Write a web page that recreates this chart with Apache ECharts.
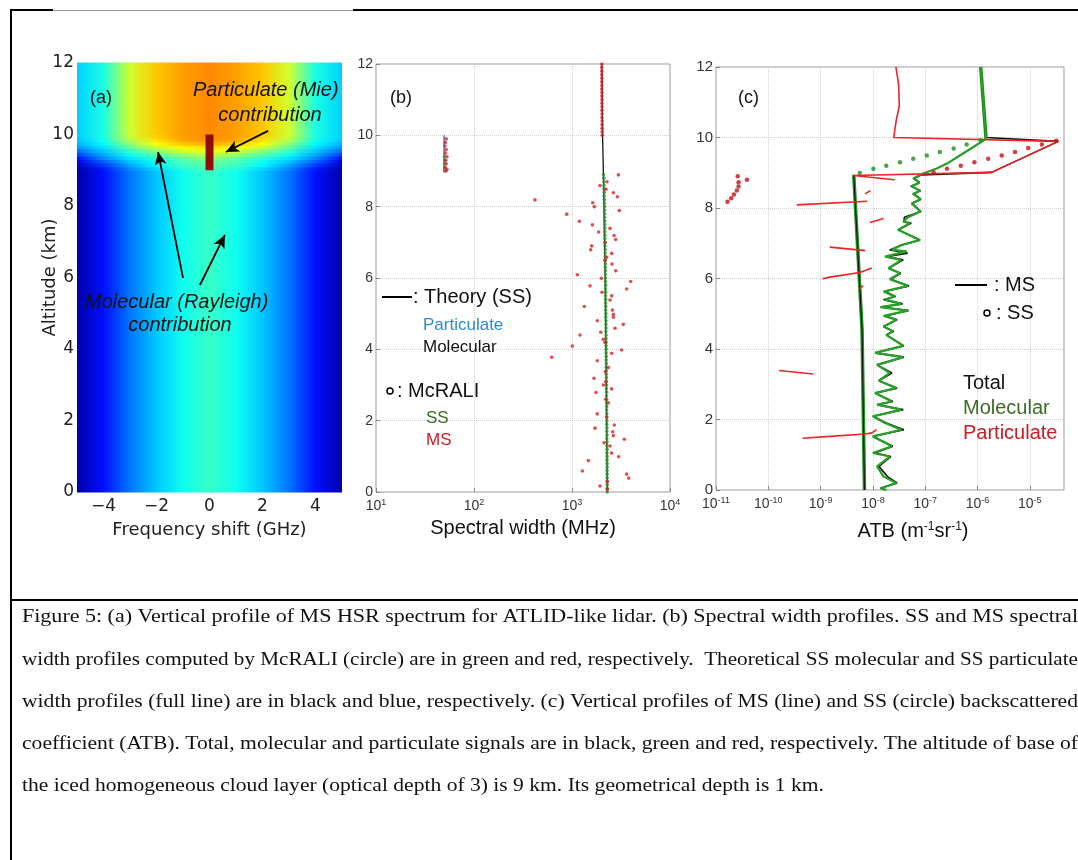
<!DOCTYPE html>
<html><head><meta charset="utf-8">
<script src="https://cdn.jsdelivr.net/npm/echarts@6/dist/echarts.min.js"></script>
<style>html,body{margin:0;padding:0;background:#fff}#c{width:1078px;height:860px}</style>
</head><body><div id="c"></div><script>
// ---------------- DATA ----------------
// (a) spectrum colour levels (jet scale 0..1) read at these frequency shifts (GHz)
const specFreqs = [-5,-4,-3,-2,-1,0,1,2,3,4,5];
// [altitude bottom, altitude top, levels at specFreqs...]
const spectrumBands = [
  [0.0, 9.0, 0.04,0.14,0.24,0.32,0.39,0.43,0.39,0.32,0.24,0.14,0.04],
  [9.0, 9.1, 0.05,0.15,0.26,0.34,0.41,0.45,0.41,0.34,0.26,0.15,0.05],
  [9.1, 9.2, 0.07,0.18,0.29,0.37,0.43,0.47,0.43,0.37,0.29,0.18,0.07],
  [9.2, 9.3, 0.10,0.22,0.32,0.39,0.45,0.49,0.45,0.39,0.32,0.22,0.10],
  [9.3, 9.4, 0.14,0.26,0.35,0.42,0.48,0.52,0.48,0.42,0.35,0.26,0.14],
  [9.4, 9.5, 0.19,0.29,0.39,0.46,0.52,0.56,0.52,0.46,0.39,0.29,0.19],
  [9.5, 9.6, 0.23,0.32,0.43,0.51,0.58,0.61,0.58,0.51,0.43,0.32,0.23],
  [9.6, 9.7, 0.27,0.35,0.47,0.57,0.63,0.66,0.63,0.57,0.47,0.35,0.27],
  [9.7, 9.8, 0.30,0.37,0.51,0.62,0.68,0.70,0.68,0.62,0.51,0.37,0.30],
  [9.8, 9.9, 0.32,0.39,0.55,0.65,0.71,0.73,0.71,0.65,0.55,0.39,0.32],
  [9.9,10.0, 0.33,0.40,0.57,0.67,0.72,0.74,0.72,0.67,0.57,0.40,0.33],
  [10.0,12.0,0.33,0.40,0.58,0.68,0.72,0.74,0.72,0.68,0.58,0.40,0.33]
];
// Mie peak: [f0, f1, z0, z1, level]
const mieCore = [[-0.15, 0.15, 9.0, 10.0, 0.95]];
// annotation arrows [[tail f, tail z],[head f, head z]]
const annotArrows = [
  [[2.21,10.10],[0.62,9.51]],
  [[-1.00,5.99],[-1.94,9.51]],
  [[-0.36,5.79],[0.58,7.19]]
];

// (b) spectral width (MHz) vs altitude (km) : [width, altitude]
const theoryMolecular = [[2290,0],[2240,3],[2180,6],[2090,9],[2050,10],[2020,12]];
const theoryParticulate = [[49.5,9.0],[49.5,10.0]];
const mcSSDots = [
  [2290,0.0],[2285,0.1],[2292,0.2],[2280,0.3],[2288,0.4],[2283,0.5],[2279,0.6],[2286,0.7],[2281,0.8],[2275,0.9],
  [2278,1.0],[2272,1.1],[2280,1.2],[2270,1.3],[2276,1.4],[2268,1.5],[2273,1.6],[2265,1.7],[2270,1.8],[2262,1.9],
  [2266,2.0],[2259,2.1],[2263,2.2],[2255,2.3],[2261,2.4],[2252,2.5],[2258,2.6],[2249,2.7],[2254,2.8],[2246,2.9],
  [2250,3.0],[2243,3.1],[2247,3.2],[2239,3.3],[2244,3.4],[2236,3.5],[2241,3.6],[2233,3.7],[2238,3.8],[2229,3.9],
  [2234,4.0],[2226,4.1],[2231,4.2],[2222,4.3],[2227,4.4],[2218,4.5],[2224,4.6],[2215,4.7],[2220,4.8],[2211,4.9],
  [2216,5.0],[2208,5.1],[2213,5.2],[2204,5.3],[2209,5.4],[2200,5.5],[2206,5.6],[2197,5.7],[2202,5.8],[2193,5.9],
  [2198,6.0],[2189,6.1],[2194,6.2],[2185,6.3],[2190,6.4],[2181,6.5],[2186,6.6],[2177,6.7],[2182,6.8],[2172,6.9],
  [2178,7.0],[2168,7.1],[2173,7.2],[2163,7.3],[2168,7.4],[2158,7.5],[2163,7.6],[2152,7.7],[2157,7.8],[2146,7.9],
  [2150,8.0],[2139,8.1],[2143,8.2],[2131,8.3],[2135,8.4],[2122,8.5],[2125,8.6],[2112,8.7],[2110,8.8],[2095,8.9],
  [50.0,9.0],[50.5,9.1],[50.0,9.2],[50.5,9.3],[50.0,9.4]
];
const mcMSDots = [
  [2035,10.0],[2030,10.1],[2028,10.2],[2025,10.3],[2030,10.4],[2022,10.5],[2026,10.6],[2020,10.7],[2024,10.8],[2018,10.9],
  [2022,11.0],[2016,11.1],[2020,11.2],[2014,11.3],[2018,11.4],[2012,11.5],[2016,11.6],[2010,11.7],[2014,11.8],[2008,11.9],[2012,12.0],
  [52,9.9],[51,9.8],[50.5,9.7],[52,9.6],[51,9.5],[53,9.4],[51.5,9.3],[52,9.2],[50.5,9.1],[53,9.05],[52,9.0],
  [2972,8.89],[2275,8.70],[1932,8.59],[2223,8.49],[2640,8.39],[2904,8.28],[419,8.19],[1625,8.11],[1690,8.00],[3040,7.89],
  [883,7.79],[1190,7.59],[1615,7.49],[2443,7.39],[1870,7.29],[2686,7.19],[2793,7.08],[2172,6.99],[1589,6.90],[1552,6.79],
  [2541,6.69],[2261,6.58],[2172,6.49],[2560,6.39],[2793,6.20],[1133,6.09],[1996,5.99],[3970,5.90],[1527,5.78],[3613,5.69],
  [2023,5.60],[2541,5.50],[2443,5.38],[1337,5.20],[2582,5.10],[2642,4.98],[2642,4.90],[1811,4.80],[3337,4.70],[2747,4.59],
  [1965,4.48],[1208,4.40],[2089,4.28],[2172,4.19],[1006,4.09],[3212,3.98],[2541,3.89],[621,3.78],[1811,3.68],[2349,3.49],
  [2188,3.37],[1675,3.19],[2204,3.09],[2089,3.00],[2541,2.89],[1757,2.79],[2204,2.60],[2349,2.50],[1811,2.19],[2261,2.10],
  [2705,1.88],[1717,1.79],[2603,1.69],[2642,1.58],[3417,1.48],[2124,1.38],[2443,1.29],[2541,1.09],[2993,0.99],[1468,0.88],
  [1275,0.59],[3613,0.50],[3788,0.39],[2296,0.29],[1932,0.17],[2300,0.08]
];

// (c) ATB (m-1 sr-1) vs altitude (km) : [ATB, altitude]
const molSSAbove = [[1.15e-6,12],[1.45e-6,10]];
const molSSBelow = [[4.3e-9,8.94],[6.2e-9,4.55],[6.9e-9,0]];
const molSSDots = [[5.6e-9,8.99],[1.02e-8,9.11],[1.8e-8,9.20],[3.3e-8,9.30],[5.9e-8,9.40],[1.07e-7,9.49],[1.9e-7,9.59],[3.5e-7,9.69],[6.2e-7,9.80],[1.15e-6,9.92]];
const ptcSSDots = [[3.2e-5,9.91],[1.7e-5,9.80],[9.3e-6,9.70],[5.2e-6,9.59],[2.9e-6,9.49],[1.6e-6,9.40],[8.7e-7,9.30],[4.8e-7,9.20],[2.6e-7,9.11],[1.45e-7,9.01],
  [1.66e-11,8.18],[1.95e-11,8.28],[2.2e-11,8.38],[2.5e-11,8.50],[2.7e-11,8.61],[2.7e-11,8.73],[2.6e-11,8.90],[3.9e-11,8.80]];
const molMS = [[1.15e-6,12],[1.45e-6,9.99],[1.29e-6,9.91],[8.3e-7,9.73],[4.6e-7,9.49],[2.6e-7,9.26],[1.66e-7,9.12],[9.1e-8,8.98],
  [8.5e-8,8.94],[5.9e-8,8.84],[7.8e-8,8.72],[5.5e-8,8.62],[7.9e-8,8.49],[5.8e-8,8.40],[8.1e-8,8.25],[5.5e-8,8.13],[8.1e-8,7.90],
  [4.7e-8,7.74],[3.8e-8,7.61],[5.1e-8,7.57],[3.0e-8,7.38],[7.8e-8,7.09],[3.5e-8,6.95],[2.3e-8,6.81],[4.4e-8,6.77],[1.7e-8,6.62],
  [3.5e-8,6.53],[2.0e-8,6.29],[3.3e-8,6.15],[2.1e-8,5.98],[4.7e-8,5.79],[1.6e-8,5.63],[2.6e-8,5.49],[1.7e-8,5.40],[3.5e-8,5.28],
  [1.4e-8,5.19],[4.7e-8,5.09],[1.6e-8,4.94],[2.8e-8,4.83],[1.6e-8,4.64],[2.4e-8,4.50],[1.8e-8,4.40],[3.8e-8,4.09],[1.1e-8,3.89],
  [3.8e-8,3.77],[1.2e-8,3.55],[2.1e-8,3.32],[1.3e-8,3.10],[2.8e-8,2.89],[1.1e-8,2.75],[2.3e-8,2.51],[1.2e-8,2.42],[3.5e-8,2.28],
  [1.0e-8,2.09],[1.7e-8,1.90],[3.5e-8,1.71],[1.0e-8,1.52],[2.3e-8,1.24],[1.0e-8,1.05],[2.1e-8,0.95],[1.2e-8,0.67],[1.6e-8,0.38],
  [2.8e-8,0.20],[1.4e-8,0.05],[1.8e-8,0.0]];
const totMS = [[1.15e-6,12],[1.45e-6,10.0],[3.5e-5,9.89],[1.86e-6,9.01],[8.5e-8,8.94],[6.2e-8,8.84],[7.8e-8,8.72],[5.3e-8,8.62],
  [8.1e-8,8.49],[6.0e-8,8.40],[8.3e-8,8.25],[5.6e-8,8.13],[8.3e-8,7.90],[4.0e-8,7.74],[3.9e-8,7.61],[5.4e-8,7.57],[3.1e-8,7.38],
  [8.0e-8,7.09],[3.6e-8,6.95],[2.1e-8,6.81],[4.6e-8,6.72],[1.8e-8,6.62],[3.8e-8,6.53],[2.0e-8,6.29],[3.4e-8,6.15],[2.2e-8,5.98],
  [4.9e-8,5.79],[1.7e-8,5.63],[2.7e-8,5.49],[1.6e-8,5.40],[3.7e-8,5.28],[1.4e-8,5.19],[4.8e-8,5.09],[1.7e-8,4.94],[2.9e-8,4.83],
  [1.6e-8,4.64],[2.5e-8,4.50],[1.8e-8,4.40],[3.9e-8,4.09],[1.1e-8,3.89],[3.9e-8,3.77],[1.2e-8,3.55],[2.3e-8,3.32],[1.3e-8,3.10],
  [2.9e-8,2.89],[1.1e-8,2.75],[2.4e-8,2.51],[1.2e-8,2.42],[3.8e-8,2.28],[1.0e-8,2.09],[1.8e-8,1.90],[3.9e-8,1.71],[1.0e-8,1.52],
  [2.4e-8,1.24],[1.1e-8,1.05],[2.2e-8,0.95],[1.3e-8,0.67],[1.9e-8,0.38],[2.9e-8,0.20],[1.4e-8,0.05],[1.8e-8,0.0]];
const ptcMSSegments = [
  [[2.75e-8,12],[3.1e-8,11.5],[3.2e-8,10.9],[2.8e-8,10.5],[2.5e-8,10.0],[3.5e-5,9.89],[1.86e-6,9.01],[4.2e-9,8.92],[2.6e-8,8.80]],
  [[7.1e-9,8.40],[8.9e-9,8.49]],
  [[3.5e-10,8.09],[7.8e-9,8.19]],
  [[8.7e-9,7.59],[1.6e-8,7.70]],
  [[1.5e-9,6.89],[7.1e-9,6.79]],
  [[1.1e-9,5.99],[1.5e-9,6.04],[5.6e-9,6.17],[9.5e-9,6.30]],
  [[5.5e-9,5.70],[6.5e-9,5.80]],
  [[1.6e-10,3.39],[7.2e-10,3.29]],
  [[4.5e-10,1.47],[1.5e-9,1.52],[7.1e-9,1.59],[9.5e-9,1.62],[1.17e-8,1.71]]
];

const captionLines = [
  'Figure 5: (a) Vertical profile of MS HSR spectrum for ATLID-like lidar. (b) Spectral width profiles. SS and MS spectral',
  'width profiles computed by McRALI (circle) are in green and red, respectively.  Theoretical SS molecular and SS particulate',
  'width profiles (full line) are in black and blue, respectively. (c) Vertical profiles of MS (line) and SS (circle) backscattered',
  'coefficient (ATB). Total, molecular and particulate signals are in black, green and red, respectively. The altitude of base of',
  'the iced homogeneous cloud layer (optical depth of 3) is 9 km. Its geometrical depth is 1 km.'
];

// ---------------- RENDER ----------------
const SANS = '"Liberation Sans", Arial, sans-serif';
const DJV = '"DejaVu Sans", sans-serif';
const NARROW = '"Liberation Sans Narrow", "Liberation Sans", sans-serif';
const SERIF = '"Liberation Serif", "Times New Roman", serif';
const GREEN_T = '#3d6b22', RED_T = '#cc1a22';

function clamp(x){ return Math.max(0, Math.min(1, x)); }
function jet(v){
  const r = clamp(Math.min(4*v-1.5, -4*v+4.5));
  const g = clamp(Math.min(4*v-0.5, -4*v+3.5));
  const b = clamp(Math.min(4*v+0.5, -4*v+2.5));
  return 'rgb(' + Math.round(r*255) + ',' + Math.round(g*255) + ',' + Math.round(b*255) + ')';
}
const fMin = specFreqs[0], fMax = specFreqs[specFreqs.length-1];

const chart = echarts.init(document.getElementById('c'), null, {width:1078, height:860});

function powLabel(v){ const e = Math.round(Math.log10(v)); return '{b|10}{s|' + e + '}'; }
const powRich = { b:{fontFamily:NARROW, fontSize:14, color:'#333'}, s:{fontFamily:NARROW, fontSize:9, color:'#333', padding:[0,0,8,0]} };

const gridLine = {show:true, lineStyle:{color:'#d0d0d0', type:'dotted', width:1}};
const tickIn = {show:true, inside:true, length:4, lineStyle:{color:'#888'}};

const series = [];
// (a) spectrum bands
series.push({
  type:'custom', xAxisIndex:0, yAxisIndex:0, silent:true, clip:false,
  data: spectrumBands,
  renderItem: function(params, api){
    const z0 = api.value(0), z1 = api.value(1);
    const p0 = api.coord([fMin, z1]), p1 = api.coord([fMax, z0]);
    const stops = specFreqs.map(function(f,k){ return {offset:(f-fMin)/(fMax-fMin), color:jet(api.value(2+k))}; });
    return {type:'rect', shape:{x:p0[0], y:p0[1]-0.5, width:p1[0]-p0[0], height:p1[1]-p0[1]+1},
      style:{fill:{type:'linear', x:0, y:0, x2:1, y2:0, colorStops:stops}}};
  }
});
series.push({
  type:'custom', xAxisIndex:0, yAxisIndex:0, silent:true, clip:false,
  data: mieCore,
  renderItem: function(params, api){
    const p0 = api.coord([api.value(0), api.value(3)]), p1 = api.coord([api.value(1), api.value(2)]);
    return {type:'rect', shape:{x:p0[0], y:p0[1], width:p1[0]-p0[0], height:p1[1]-p0[1]}, style:{fill:'#8e0d0d'}};
  }
});
series.push({
  type:'line', xAxisIndex:0, yAxisIndex:0, data:[], silent:true, z:10,
  markLine:{silent:true, animation:false, symbol:['none','arrow'], symbolSize:14, label:{show:false},
    lineStyle:{color:'#000', width:1.8, type:'solid'}, itemStyle:{color:'#000'},
    data: annotArrows.map(function(a){ return [{coord:a[0], symbol:'none'},{coord:a[1], symbol:'arrow', symbolSize:[9,13]}]; })}
});
// (b)
series.push({type:'line', xAxisIndex:1, yAxisIndex:1, data:theoryMolecular, symbol:'none', lineStyle:{color:'#111', width:1.3}, silent:true, z:2});
series.push({type:'line', xAxisIndex:1, yAxisIndex:1, data:theoryParticulate, symbol:'none', lineStyle:{color:'#2c5fd0', width:1.3}, silent:true, z:2});
series.push({type:'scatter', xAxisIndex:1, yAxisIndex:1, data:mcSSDots, symbolSize:3.6, itemStyle:{color:'#2a962a'}, silent:true, z:3});
series.push({type:'scatter', xAxisIndex:1, yAxisIndex:1, data:mcMSDots, symbolSize:3.6, itemStyle:{color:'#d42424'}, silent:true, z:4});
// (c)
series.push({type:'line', xAxisIndex:2, yAxisIndex:2, data:molSSAbove, symbol:'none', lineStyle:{color:'#1f8f1f', width:3.5}, silent:true, z:2});
series.push({type:'line', xAxisIndex:2, yAxisIndex:2, data:molSSBelow, symbol:'none', lineStyle:{color:'#1f8f1f', width:3.5}, silent:true, z:2});
series.push({type:'line', xAxisIndex:2, yAxisIndex:2, data:molSSAbove, symbol:'none', lineStyle:{color:'#111', width:1}, silent:true, z:3});
series.push({type:'line', xAxisIndex:2, yAxisIndex:2, data:molSSBelow, symbol:'none', lineStyle:{color:'#111', width:1}, silent:true, z:3});
series.push({type:'line', xAxisIndex:2, yAxisIndex:2, data:totMS, symbol:'none', lineStyle:{color:'#111', width:1.6}, silent:true, z:3});
series.push({type:'line', xAxisIndex:2, yAxisIndex:2, data:molMS, symbol:'none', lineStyle:{color:'#27a027', width:2.2}, silent:true, z:4});
ptcMSSegments.forEach(function(seg){
  series.push({type:'line', xAxisIndex:2, yAxisIndex:2, data:seg, symbol:'none', lineStyle:{color:'#ee2424', width:1.6}, silent:true, z:5});
});
series.push({type:'scatter', xAxisIndex:2, yAxisIndex:2, data:molSSDots, symbolSize:4.5, itemStyle:{color:'#228b22'}, silent:true, z:6});
series.push({type:'scatter', xAxisIndex:2, yAxisIndex:2, data:ptcSSDots, symbolSize:4.5, itemStyle:{color:'#c0101a'}, silent:true, z:6});

// caption layout (scale to the justified line widths)
const ctx = document.createElement('canvas').getContext('2d');
const capFont = 19;
ctx.font = capFont + 'px "Liberation Serif"';
const capTargets = [1056,1056,1056,1056,802];
const capY = [617, 660, 702, 744, 786];

const T = function(text, x, y, size, opt){
  opt = opt || {};
  return {type:'text', x:x, y:y, z:100, silent:true, scaleX: opt.scaleX || 1, style:{text:text, fontSize:size, fontFamily:opt.family||SANS,
    fontStyle:opt.italic?'italic':'normal', fill:opt.color||'#111', align:opt.align||'left', verticalAlign:'middle'}};
};
const graphics = [
  {type:'line', z:100, silent:true, shape:{x1:10,y1:10,x2:53,y2:10}, style:{stroke:'#000', lineWidth:2}},
  {type:'line', z:100, silent:true, shape:{x1:53,y1:10.5,x2:353,y2:10.5}, style:{stroke:'#999', lineWidth:1}},
  {type:'line', z:100, silent:true, shape:{x1:353,y1:10,x2:1078,y2:10}, style:{stroke:'#000', lineWidth:2}},
  {type:'line', z:100, silent:true, shape:{x1:11,y1:9,x2:11,y2:860}, style:{stroke:'#000', lineWidth:2}},
  {type:'line', z:100, silent:true, shape:{x1:10,y1:600,x2:1078,y2:600}, style:{stroke:'#000', lineWidth:2}},
  // (a)
  T('(a)', 90, 98, 18),
  T('Particulate (Mie)', 193, 90, 20, {italic:true}),
  T('contribution', 270, 115, 20, {italic:true, align:'center'}),
  T('Molecular (Rayleigh)', 85, 302, 20, {italic:true}),
  T('contribution', 180, 325, 20, {italic:true, align:'center'}),
  // (b)
  T('(b)', 390, 98, 18),
  {type:'line', z:100, silent:true, shape:{x1:382,y1:297,x2:412,y2:297}, style:{stroke:'#000', lineWidth:2}},
  T(': Theory (SS)', 413, 297, 20),
  T('Particulate', 423, 325, 17, {color:'#2a8ad4'}),
  T('Molecular', 423, 347, 17),
  {type:'circle', z:100, silent:true, shape:{cx:390, cy:391, r:3}, style:{fill:'none', stroke:'#000', lineWidth:1.5}},
  T(': McRALI', 397, 391, 20),
  T('SS', 426, 418, 17, {color:GREEN_T}),
  T('MS', 426, 440, 17, {color:RED_T}),
  // (c)
  T('(c)', 738, 98, 18),
  {type:'line', z:100, silent:true, shape:{x1:955,y1:285,x2:987,y2:285}, style:{stroke:'#000', lineWidth:2}},
  T(': MS', 994, 285, 20),
  {type:'circle', z:100, silent:true, shape:{cx:987, cy:313, r:3}, style:{fill:'none', stroke:'#000', lineWidth:1.5}},
  T(': SS', 996, 313, 20),
  T('Total', 963, 383, 20),
  T('Molecular', 963, 408, 20, {color:GREEN_T}),
  T('Particulate', 963, 433, 20, {color:RED_T})
];
captionLines.forEach(function(line, i){
  const w = ctx.measureText(line).width;
  graphics.push(T(line, 22, capY[i], capFont, {family:SERIF, color:'#111', scaleX: capTargets[i]/w}));
});

const option = {
  animation:false,
  backgroundColor:'#fff',
  grid:[
    {left:77, top:63, width:265, height:429, show:false},
    {left:376, top:64, width:294, height:428, show:true, borderColor:'#999', borderWidth:1, backgroundColor:'transparent'},
    {left:716, top:67, width:348, height:423, show:true, borderColor:'#999', borderWidth:1, backgroundColor:'transparent'}
  ],
  xAxis:[
    {gridIndex:0, type:'value', min:-5, max:5, splitNumber:5, splitLine:{show:false}, axisLine:{show:false},
     axisTick:{show:true, inside:true, length:4, lineStyle:{color:'#ddd'}},
     axisLabel:{showMinLabel:false, showMaxLabel:false, fontFamily:DJV, fontSize:17, color:'#222', margin:6,
       formatter:function(v){ return v < 0 ? '\u2212' + Math.abs(v) : String(v); }},
     name:'Frequency shift (GHz)', nameLocation:'middle', nameGap:29, nameTextStyle:{fontFamily:DJV, fontSize:18, color:'#222'}},
    {gridIndex:1, type:'log', logBase:10, min:10, max:10000, splitLine:gridLine, axisLine:{show:false}, axisTick:tickIn,
     axisLabel:{formatter:powLabel, rich:powRich, margin:6},
     name:'Spectral width (MHz)', nameLocation:'middle', nameGap:26, nameTextStyle:{fontFamily:SANS, fontSize:20, color:'#111'}},
    {gridIndex:2, type:'log', logBase:10, min:1e-11, max:4.5e-5, splitLine:gridLine, axisLine:{show:false}, axisTick:tickIn,
     axisLabel:{formatter:powLabel, rich:powRich, margin:6, showMaxLabel:false},
     name:'ATB (m{s|-1}sr{s|-1})', nameLocation:'middle', nameGap:31,
     nameTextStyle:{fontFamily:SANS, fontSize:20, color:'#111', padding:[0,0,0,46],
       rich:{s:{fontFamily:SANS, fontSize:12, color:'#111', padding:[0,0,9,0]}}}}
  ],
  yAxis:[
    {gridIndex:0, type:'value', min:0, max:12, interval:2, splitLine:{show:false}, axisLine:{show:false},
     axisTick:{show:true, inside:true, length:4, lineStyle:{color:'#ddd'}},
     axisLabel:{fontFamily:DJV, fontSize:17, color:'#222', margin:3},
     name:'Altitude (km)', nameLocation:'middle', nameGap:18, nameMoveOverlap:false,
     nameTextStyle:{fontFamily:DJV, fontSize:18, color:'#222'}},
    {gridIndex:1, type:'value', min:0, max:12, interval:2, splitLine:gridLine, axisLine:{show:false}, axisTick:tickIn,
     axisLabel:{fontFamily:NARROW, fontSize:14, color:'#333', margin:3}},
    {gridIndex:2, type:'value', min:0, max:12, interval:2, splitLine:gridLine, axisLine:{show:false}, axisTick:tickIn,
     axisLabel:{fontFamily:NARROW, fontSize:15, color:'#333', margin:3}}
  ],
  series: series,
  graphic:{elements:graphics}
};
chart.setOption(option);
</script></body></html>
